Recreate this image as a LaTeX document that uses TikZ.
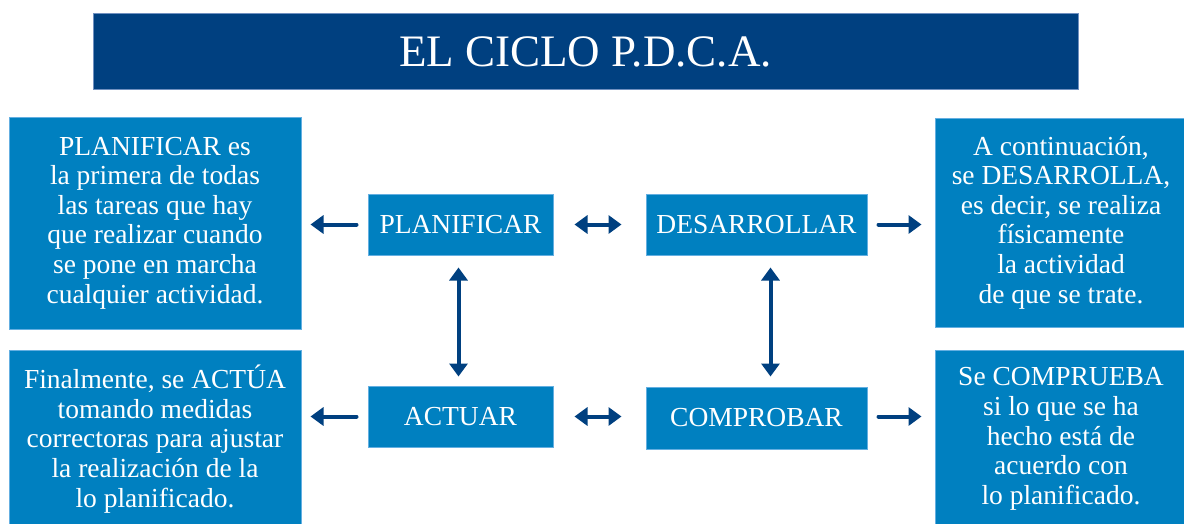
\documentclass[tikz,border=0pt]{standalone}
\usepackage{fontspec}
\setmainfont{Liberation Serif}
\usetikzlibrary{arrows.meta}
\definecolor{boxblue}{RGB}{0,128,192}
\definecolor{navy}{RGB}{0,64,128}
\definecolor{edgeblue}{RGB}{100,175,225}
\definecolor{titleedge}{RGB}{112,144,192}
\begin{document}
\begin{tikzpicture}[x=1pt,y=-1pt,
  box/.style={draw=edgeblue, line width=1pt, fill=boxblue, text=white, inner sep=0pt,
    align=center, font=\fontsize{27.5}{29.6}\selectfont},
  titlebox/.style={draw=titleedge, line width=1pt, fill=navy, text=white, inner sep=0pt,
    font=\fontsize{45}{50}\selectfont},
  tip/.tip={Triangle[width=18pt,length=13pt]},
  arr/.style={draw=navy, line width=4pt, line cap=round, line join=round, -tip},
  darr/.style={draw=navy, line width=4pt, line join=round, tip-tip}]
\useasboundingbox (0,0) rectangle (1184,523);

\node[titlebox, minimum width=985pt, minimum height=76pt] (title) at (585.5,51.5) {EL CICLO P.D.C.A.};

\node[box, minimum width=292pt, minimum height=212pt] (lt) at (155,223)
  {PLANIFICAR es\\la primera de todas\\las tareas que hay\\que realizar cuando\\se pone en marcha\\cualquier actividad.};
\node[box, minimum width=292pt, minimum height=178pt] (lb) at (155,439)
  {Finalmente, se ACTÚA\\tomando medidas\\correctoras para ajustar\\la realización de la\\lo planificado.};
\node[box, minimum width=252pt, minimum height=209pt] (rt) at (1061,222.5)
  {A continuación,\\se DESARROLLA,\\es decir, se realiza\\físicamente\\la actividad\\de que se trate.};
\node[box, minimum width=252pt, minimum height=178pt] (rb) at (1061,439)
  {Se COMPRUEBA\\si lo que se ha\\hecho está de\\acuerdo con\\lo planificado.};

\node[box, minimum width=185pt, minimum height=61pt] (plan) at (460.5,224.5) {PLANIFICAR};
\node[box, minimum width=221pt, minimum height=61pt] (des) at (756.5,224.5) {DESARROLLAR};
\node[box, minimum width=185pt, minimum height=61pt] (act) at (460.5,416.5) {ACTUAR};
\node[box, minimum width=221pt, minimum height=62pt] (comp) at (756.5,418) {COMPROBAR};

\draw[arr, shorten <=11pt, shorten >=9pt] (plan.west) -- (plan.west -| lt.east);
\draw[darr, shorten <=21pt, shorten >=24pt] (plan.east) -- (plan.east -| des.west);
\draw[arr, shorten <=11pt, shorten >=13pt] (des.east) -- (des.east -| rt.west);
\draw[arr, shorten <=11pt, shorten >=9pt] (act.west) -- (act.west -| lb.east);
\draw[darr, shorten <=21pt, shorten >=24pt] (act.east) -- (act.east -| comp.west);
\draw[arr, shorten <=11pt, shorten >=13pt] (comp.east |- act.east) -- (act.east -| rb.west);
\draw[darr, shorten <=12pt, shorten >=9pt] ([xshift=-2pt]plan.south) -- ([xshift=-2pt]act.north);
\draw[darr, shorten <=12pt, shorten >=10pt] ([xshift=14pt]des.south) -- ([xshift=14pt]comp.north);
\end{tikzpicture}
\end{document}
